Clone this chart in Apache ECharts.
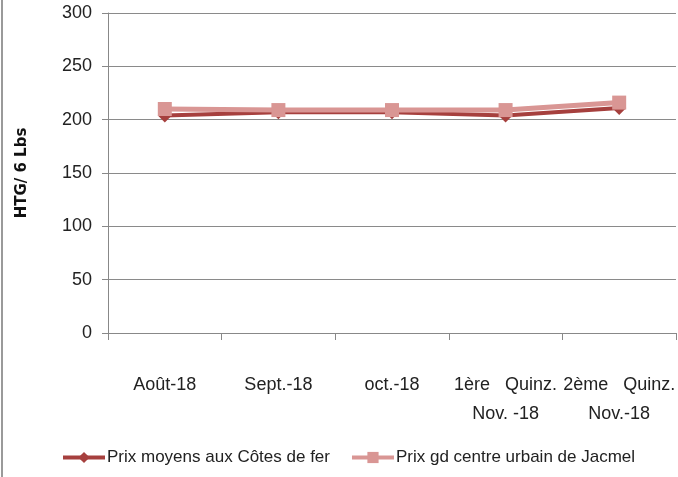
<!DOCTYPE html>
<html>
<head>
<meta charset="utf-8">
<script src="https://cdn.jsdelivr.net/npm/echarts@6/dist/echarts.min.js"></script>
<style>
  html, body { margin: 0; padding: 0; background: #fff; }
  #main { width: 678px; height: 477px; }
</style>
</head>
<body>
<div id="main"></div>
<script>
// categories on the x axis
const categories = ['Août-18', 'Sept.-18', 'oct.-18', '1ère   Quinz.\nNov. -18', '2ème   Quinz.\nNov.-18']
// HTG / 6 Lbs
const prixCotesDeFer = [204, 207, 207, 204, 211]
const prixJacmel = [210, 209, 209, 209, 216]

const labelFont = '"Liberation Sans", sans-serif'

const chart = echarts.init(document.getElementById('main'))

chart.setOption({
	animation: false,
	graphic: [{
		type: 'line',
		shape: { x1: 2, y1: 0, x2: 2, y2: 477 },
		style: { stroke: '#9a9a9a', lineWidth: 2 }
	}],
	grid: {
		left: 108,
		right: 0,
		top: 13,
		bottom: 144
	},
	legend: {
		bottom: 6,
		left: 56,
		itemGap: 20,
		itemWidth: 42,
		itemHeight: 14,
		lineStyle: { width: 4 },
		textStyle: {
			fontFamily: labelFont,
			fontSize: 17,
			color: '#222',
			padding: [0, 0, 0, -3]
		},
		data: ['Prix moyens aux Côtes de fer', 'Prix gd centre urbain de Jacmel']
	},
	xAxis: {
		type: 'category',
		data: categories,
		boundaryGap: true,
		axisLine: { lineStyle: { color: '#888', width: 1 } },
		axisTick: { show: true, length: 7, lineStyle: { color: '#888' } },
		axisLabel: {
			margin: 38,
			fontFamily: labelFont,
			fontSize: 18,
			color: '#222',
			lineHeight: 29,
			interval: 0
		}
	},
	yAxis: {
		type: 'value',
		min: 0,
		max: 300,
		interval: 50,
		name: 'HTG/ 6 Lbs',
		nameLocation: 'middle',
		nameGap: 78,
		nameTextStyle: {
			fontFamily: 'DejaVu Sans',
			fontWeight: 'bold',
			fontSize: 15,
			color: '#111'
		},
		axisLine: { show: true, lineStyle: { color: '#888' } },
		axisTick: { show: true, inside: false, length: 6, lineStyle: { color: '#888' } },
		splitLine: { show: true, lineStyle: { color: '#8a8a8a', width: 1 } },
		axisLabel: {
			margin: 16,
			fontFamily: labelFont,
			fontSize: 18,
			color: '#222'
		}
	},
	series: [{
		name: 'Prix moyens aux Côtes de fer',
		type: 'line',
		data: prixCotesDeFer,
		symbol: 'diamond',
		symbolSize: 14,
		itemStyle: { color: '#a6403e' },
		lineStyle: { color: '#a6403e', width: 4 }
	}, {
		name: 'Prix gd centre urbain de Jacmel',
		type: 'line',
		data: prixJacmel,
		symbol: 'rect',
		symbolSize: 14,
		itemStyle: { color: '#d99694' },
		lineStyle: { color: '#d99694', width: 5 }
	}]
})
</script>
</body>
</html>
